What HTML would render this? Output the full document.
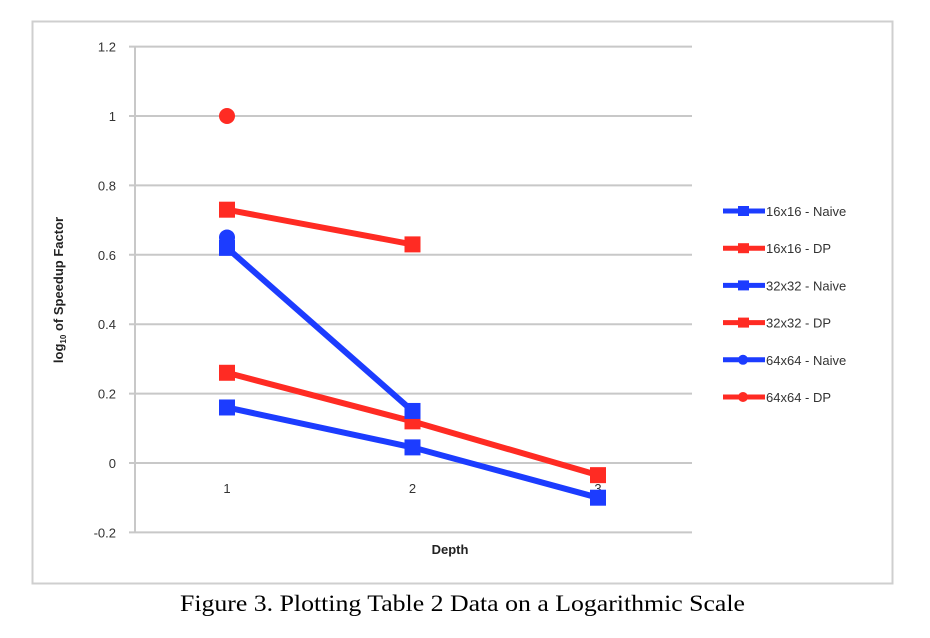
<!DOCTYPE html>
<html><head><meta charset="utf-8"><style>
body{margin:0;background:#fff;width:930px;height:638px;overflow:hidden}
svg{display:block}
text{font-family:"Liberation Sans",sans-serif}
</style></head><body>
<svg id="c" width="930" height="638">
<rect x="32.5" y="21.5" width="860" height="562" fill="#fff" stroke="#cfcfcf" stroke-width="2"/>
<g id="grid"></g><g id="series"></g><g id="legend"></g>
<text x="450" y="554" font-size="13" font-weight="bold" text-anchor="middle" fill="#222">Depth</text>
<text transform="translate(63,290) rotate(-90)" font-size="13" font-weight="bold" text-anchor="middle" fill="#222">log<tspan font-size="8" dy="3">10</tspan><tspan dy="-3"> of Speedup Factor</tspan></text>
<text x="180" y="611" font-size="23" textLength="565" lengthAdjust="spacingAndGlyphs" fill="#000" style="font-family:'Liberation Serif',serif">Figure 3. Plotting Table 2 Data on a Logarithmic Scale</text>
</svg>
<script>
const categories=[1,2,3];
const yTicks=[1.2,1,0.8,0.6,0.4,0.2,0,-0.2];
const seriesNames=["16x16 - Naive","16x16 - DP","32x32 - Naive","32x32 - DP","64x64 - Naive","64x64 - DP"];
const naive16=[0.16,0.045,-0.1];
const dp16=[0.26,0.12,-0.035];
const naive32=[0.62,0.15,null];
const dp32=[0.73,0.63,null];
const naive64=[0.65,null,null];
const dp64=[1.0,null,null];
const NS="http://www.w3.org/2000/svg";
const BLUE="#1c3cff",RED="#ff2b23";
const styles=[[BLUE,"sq"],[RED,"sq"],[BLUE,"sq"],[RED,"sq"],[BLUE,"ci"],[RED,"ci"]];
const data=[naive16,dp16,naive32,dp32,naive64,dp64];
const y=v=>463-(v/0.2)*69.4;
const x=c=>227+(c-1)*185.5;
function mk(t,a,p){const e=document.createElementNS(NS,t);for(const k in a)e.setAttribute(k,a[k]);p.appendChild(e);return e;}
const grid=document.getElementById('grid');
yTicks.forEach(v=>{
 const l=mk('line',{x1:129,x2:692,y1:y(v),y2:y(v),stroke:'#c8c8c8','stroke-width':2},grid);
 
 
 const t=mk('text',{x:116,y:y(v)+5,'font-size':13,'text-anchor':'end',fill:'#333'},grid);
 t.textContent=String(v);
 
 
});
const ax=mk('line',{x1:135,x2:135,y1:y(1.2),y2:y(-0.2),stroke:'#c8c8c8','stroke-width':2},grid);


categories.forEach(c=>{
 const t=mk('text',{x:x(c),y:y(0)+30,'font-size':13,'text-anchor':'middle',fill:'#333'},grid);
 t.textContent=String(c);
 
 
});
const sg=document.getElementById('series');
function marker(cx,cy,col,shape,p){
 let m;
 if(shape==='sq')m=mk('rect',{x:cx-8,y:cy-8,width:16,height:16,fill:col},p);
 else m=mk('circle',{cx:cx,cy:cy,r:8,fill:col},p);
 return m;
}
data.forEach((arr,i)=>{
 const [col,shape]=styles[i];
 const g=mk('g',{},sg);
 
 
 const pts=[];arr.forEach((v,j)=>{if(v!==null)pts.push([x(categories[j]),y(v)]);});
 if(pts.length>1){const pl=mk('polyline',{points:pts.map(p=>p.join(',')).join(' '),fill:'none',stroke:col,'stroke-width':6},g);
  
  }
 pts.forEach(p=>{const m=marker(p[0],p[1],col,shape,g);
  
  });
});
const lg=document.getElementById('legend');
seriesNames.forEach((n,i)=>{
 const [col,shape]=styles[i];
 const yy=211+i*37.2;
 const g=mk('g',{},lg);
 
 
 mk('line',{x1:723,x2:765,y1:yy,y2:yy,stroke:col,'stroke-width':5},g);
 if(shape==='sq')mk('rect',{x:738,y:yy-5,width:11,height:10,fill:col},g);
 else mk('circle',{cx:743,cy:yy,r:5,fill:col},g);
 const t=mk('text',{x:766,y:yy+5,'font-size':13,fill:'#333'},g);
 t.textContent=n;
});
</script>
</body></html>
